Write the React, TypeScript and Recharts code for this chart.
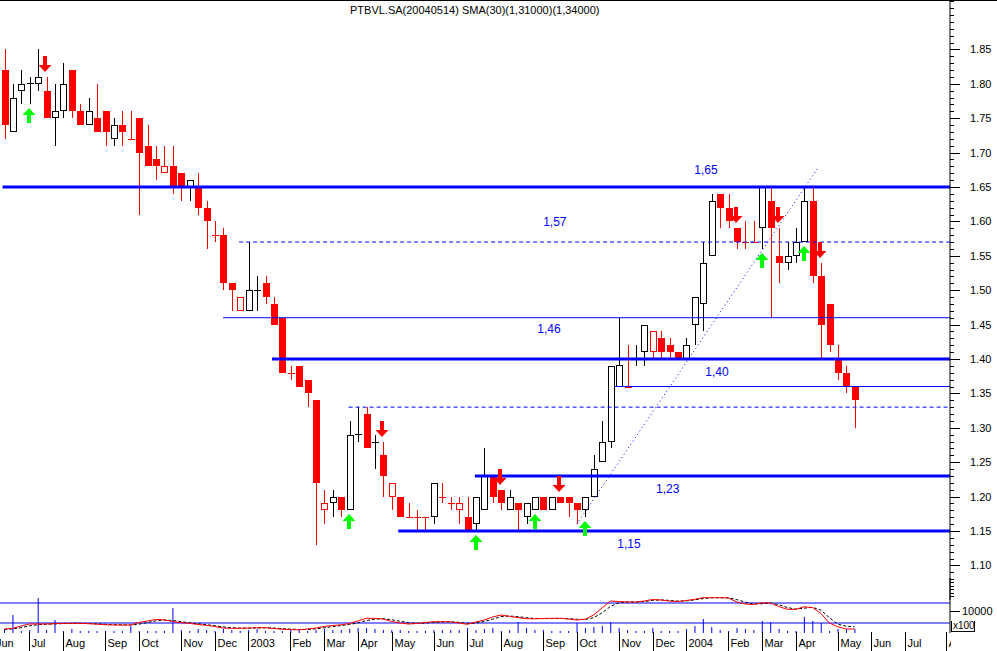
import React from "react";
import {
  ComposedChart,
  Bar,
  Line,
  XAxis,
  YAxis,
  ReferenceLine,
  ReferenceDot,
} from "recharts";

// PTBVL.SA weekly, Jun 2002 .. May 2004 (week 0 = first bar)
const opens = [
  1.82, 1.73, 1.79, 1.801, 1.8, 1.79, 1.75, 1.76, 1.82, 1.76,
  1.74, 1.75, 1.76, 1.72, 1.74, 1.72, 1.75, 1.71, 1.69, 1.67,
  1.68, 1.67, 1.65, 1.65, 1.62, 1.58, 1.58, 1.51, 1.47, 1.47,
  1.501, 1.51, 1.48, 1.46, 1.38, 1.39, 1.37, 1.34, 1.18, 1.19,
  1.2, 1.18, 1.291, 1.32, 1.28, 1.26, 1.2, 1.2, 1.17, 1.17,
  1.17, 1.17, 1.2, 1.19, 1.18, 1.17, 1.16, 1.18, 1.23, 1.21,
  1.18, 1.19, 1.17, 1.18, 1.2, 1.18, 1.2, 1.2, 1.19, 1.18,
  1.2, 1.25, 1.28, 1.36, 1.36, 1.4, 1.41, 1.41, 1.43, 1.42,
  1.41, 1.4, 1.45, 1.48, 1.55, 1.64, 1.62, 1.59, 1.57, 1.57,
  1.59, 1.63, 1.55, 1.54, 1.55, 1.57, 1.63, 1.52, 1.48, 1.4,
  1.38, 1.36,
];
const highs = [
  1.85, 1.8, 1.82, 1.81, 1.85, 1.81, 1.8, 1.83, 1.82, 1.77,
  1.78, 1.8, 1.76, 1.75, 1.76, 1.76, 1.75, 1.74, 1.71, 1.71,
  1.71, 1.67, 1.66, 1.67, 1.63, 1.6, 1.59, 1.51, 1.49, 1.57,
  1.52, 1.52, 1.49, 1.46, 1.39, 1.39, 1.37, 1.34, 1.21, 1.21,
  1.2, 1.31, 1.33, 1.33, 1.29, 1.28, 1.22, 1.2, 1.19, 1.18,
  1.17, 1.22, 1.22, 1.2, 1.2, 1.2, 1.2, 1.27, 1.23, 1.21,
  1.21, 1.19, 1.19, 1.2, 1.2, 1.2, 1.2, 1.2, 1.19, 1.2,
  1.26, 1.31, 1.39, 1.46, 1.42, 1.42, 1.45, 1.44, 1.44, 1.43,
  1.41, 1.43, 1.49, 1.57, 1.64, 1.64, 1.64, 1.59, 1.6, 1.6,
  1.65, 1.65, 1.59, 1.57, 1.59, 1.65, 1.65, 1.54, 1.48, 1.42,
  1.39, 1.36,
];
const lows = [
  1.72, 1.73, 1.77, 1.77, 1.79, 1.75, 1.71, 1.75, 1.75, 1.74,
  1.74, 1.73, 1.71, 1.71, 1.71, 1.72, 1.61, 1.68, 1.66, 1.67,
  1.64, 1.63, 1.63, 1.61, 1.56, 1.57, 1.5, 1.47, 1.47, 1.47,
  1.47, 1.48, 1.45, 1.38, 1.37, 1.36, 1.33, 1.13, 1.16, 1.17,
  1.17, 1.18, 1.28, 1.27, 1.24, 1.2, 1.18, 1.17, 1.17, 1.15,
  1.15, 1.16, 1.19, 1.18, 1.16, 1.15, 1.15, 1.18, 1.19, 1.18,
  1.18, 1.15, 1.16, 1.18, 1.18, 1.18, 1.19, 1.17, 1.16, 1.17,
  1.2, 1.25, 1.27, 1.36, 1.36, 1.39, 1.39, 1.4, 1.4, 1.4,
  1.4, 1.4, 1.42, 1.44, 1.55, 1.59, 1.59, 1.56, 1.56, 1.57,
  1.56, 1.46, 1.51, 1.53, 1.54, 1.57, 1.51, 1.4, 1.41, 1.37,
  1.35, 1.3,
];
const closes = [
  1.74, 1.78, 1.8, 1.801, 1.81, 1.75, 1.76, 1.8, 1.76, 1.74,
  1.76, 1.73, 1.73, 1.74, 1.73, 1.72, 1.7, 1.68, 1.68, 1.68,
  1.65, 1.65, 1.66, 1.62, 1.6, 1.58, 1.51, 1.5, 1.49, 1.5,
  1.501, 1.49, 1.45, 1.38, 1.38, 1.36, 1.35, 1.22, 1.19, 1.2,
  1.18, 1.29, 1.291, 1.27, 1.28, 1.23, 1.22, 1.17, 1.17, 1.17,
  1.17, 1.22, 1.2, 1.19, 1.19, 1.15, 1.2, 1.23, 1.2, 1.19,
  1.2, 1.18, 1.19, 1.2, 1.18, 1.2, 1.19, 1.19, 1.18, 1.2,
  1.24, 1.28, 1.39, 1.391, 1.36, 1.4, 1.45, 1.44, 1.41, 1.41,
  1.4, 1.42, 1.49, 1.54, 1.63, 1.62, 1.6, 1.57, 1.57, 1.57,
  1.65, 1.59, 1.54, 1.55, 1.57, 1.63, 1.52, 1.45, 1.42, 1.38,
  1.36, 1.34,
];

// volume (thousands), lower panel
const volumes = [
  300, 1800, 200, 300, 3500, 300, 1300, 200, 400, 200,
  200, 200, 200, 200, 200, 700, 200, 200, 200, 200,
  2500, 300, 200, 400, 300, 200, 400, 300, 200, 300,
  400, 200, 200, 200, 300, 300, 200, 300, 400, 300,
  300, 400, 500, 500, 400, 300, 300, 300, 200, 200,
  200, 300, 300, 300, 300, 500, 300, 400, 500, 200,
  300, 1100, 500, 300, 300, 200, 200, 200, 1000, 500,
  600, 700, 1100, 500, 300, 200, 200, 500, 200, 200,
  200, 400, 700, 1400, 600, 300, 200, 500, 400, 300,
  1200, 1100, 400, 200, 200, 1600, 1200, 1000, 200, 400,
  400, 400,
];
// indicator (x100) and its signal line
const indicator = [
  8170, 8240, 8470, 8670, 8670, 8670, 8700, 8740, 8740, 8740,
  8700, 8650, 8600, 8570, 8570, 8570, 8820, 8970, 9120, 9090,
  8920, 8800, 8740, 8620, 8540, 8420, 8270, 8240, 8240, 8270,
  8300, 8300, 8220, 8150, 8110, 8090, 8170, 8270, 8420, 8520,
  8590, 8720, 8970, 9240, 9240, 9170, 8920, 8770, 8670, 8720,
  8820, 8900, 8900, 8890, 8770, 8640, 8870, 9070, 9370, 9570,
  9440, 9310, 9200, 9190, 9220, 9240, 9240, 9170, 9070, 9150,
  9570, 10270, 10970, 10920, 10870, 10870, 10970, 11120, 11070, 10970,
  10920, 11020, 11140, 11300, 11300, 11300, 11270, 10870, 10670, 10620,
  10790, 10770, 10420, 10140, 10140, 10390, 10320, 9720, 8770, 8400,
  8170, 8170,
];
const signal = [
  8120, 8180, 8300, 8480, 8600, 8650, 8680, 8710, 8730, 8740,
  8720, 8690, 8640, 8600, 8580, 8570, 8650, 8820, 8980, 9060,
  9020, 8900, 8800, 8700, 8600, 8500, 8380, 8300, 8260, 8250,
  8270, 8290, 8270, 8210, 8160, 8120, 8120, 8180, 8290, 8410,
  8510, 8620, 8780, 9010, 9150, 9200, 9100, 8950, 8800, 8740,
  8760, 8830, 8880, 8890, 8840, 8730, 8760, 8920, 9150, 9400,
  9470, 9400, 9300, 9230, 9210, 9220, 9230, 9210, 9140, 9120,
  9300, 9780, 10420, 10800, 10880, 10870, 10910, 11030, 11080, 11030,
  10960, 10980, 11080, 11210, 11290, 11300, 11290, 11120, 10850, 10680,
  10700, 10760, 10600, 10320, 10160, 10250, 10340, 10050, 9300, 8650,
  8450, 8380,
];

const buyWeeks = [3, 41, 56, 63, 69, 90, 95];
const sellWeeks = [5, 45, 59, 66, 87, 92, 97];

const monthWeeks = [
  -0.5, 3, 7, 12, 16, 21, 25, 29, 34, 38, 42, 46, 51, 55, 59, 64, 68, 73, 77,
  81, 86, 90, 94, 99, 103, 107, 111.8,
];
const monthNames = [
  "Jun", "Jul", "Aug", "Sep", "Oct", "Nov", "Dec", "2003", "Feb", "Mar",
  "Apr", "May", "Jun", "Jul", "Aug", "Sep", "Oct", "Nov", "Dec", "2004",
  "Feb", "Mar", "Apr", "May", "Jun", "Jul", "Aug",
];

const priceLabels = [
  1.1, 1.15, 1.2, 1.25, 1.3, 1.35, 1.4, 1.45, 1.5, 1.55, 1.6, 1.65, 1.7,
  1.75, 1.8, 1.85,
];

const title = "PTBVL.SA(20040514) SMA(30)(1,31000)(1,34000)";

// hand-drawn support / resistance
const levelLines = [
  { price: 1.65, from: -0.2, heavy: true, dashed: false },
  { price: 1.57, from: 27.9, heavy: false, dashed: true },
  { price: 1.46, from: 26.0, heavy: false, dashed: false },
  { price: 1.4, from: 31.8, heavy: true, dashed: false },
  { price: 1.36, from: 72.5, heavy: false, dashed: false },
  { price: 1.33, from: 40.9, heavy: false, dashed: true },
  { price: 1.23, from: 55.9, heavy: true, dashed: false },
  { price: 1.15, from: 46.8, heavy: true, dashed: false },
];
const levelTexts = [
  { text: "1,65", week: 83.35, price: 1.6747 },
  { text: "1,57", week: 65.4, price: 1.5991 },
  { text: "1,46", week: 64.7, price: 1.4436 },
  { text: "1,40", week: 84.65, price: 1.3811 },
  { text: "1,23", week: 78.8, price: 1.211 },
  { text: "1,15", week: 74.2, price: 1.1311 },
];
const trendStart = { week: 68, price: 1.16 };
const trendEnd = { week: 96.6, price: 1.677 };

const X_MIN = -0.5;
const X_MAX = 112.33;
const AXIS_X = 950;
const FONT = "'Liberation Sans', Arial, sans-serif";
const BLUE = "#0000FF";
const RED = "#FF0000";

const candles = opens.map((o, i) => ({
  week: i,
  open: o,
  high: highs[i],
  low: lows[i],
  close: closes[i],
  prev: i > 0 ? closes[i - 1] : undefined,
  range: [lows[i], highs[i]],
}));

const lower = volumes.map((v, i) => ({
  week: i,
  vol: v,
  ind: indicator[i],
  sig: signal[i],
}));

const priceTicks: number[] = [];
for (let c = 106; c <= 192; c++) priceTicks.push(c / 100);

const Candle = (props: any) => {
  const { x, y, width, height, payload } = props;
  const { open, close, high, low, prev } = payload;
  const k = height / (high - low || 1);
  const cx = Math.round(x + width / 2) + 0.5;
  const yO = Math.round(y + (high - open) * k);
  const yC = Math.round(y + (high - close) * k);
  const up = prev === undefined ? close > open : close > prev;
  const color = up ? "#000000" : RED;
  const top = Math.min(yO, yC);
  const bot = Math.max(yO, yC);
  let body;
  if (Math.abs(close - open) < 0.002) {
    body = (
      <line x1={cx - 3.5} x2={cx + 3.5} y1={yC + 0.5} y2={yC + 0.5} stroke={color} />
    );
  } else if (close < open) {
    body = <rect x={cx - 3.5} y={top} width={7} height={bot - top} fill={color} />;
  } else {
    body = (
      <rect
        x={cx - 3}
        y={top + 0.5}
        width={6}
        height={bot - top - 1}
        fill="#ffffff"
        stroke={color}
      />
    );
  }
  return (
    <g>
      <line
        x1={cx}
        x2={cx}
        y1={Math.round(y)}
        y2={Math.round(y + height)}
        stroke={color}
      />
      {body}
    </g>
  );
};

const UpArrow = ({ cx, cy }: any) => {
  const x = Math.round(cx);
  const t = Math.round(cy) + 4;
  return (
    <polygon
      points={`${x},${t} ${x + 6.5},${t + 7} ${x + 2},${t + 7} ${x + 2},${t + 15} ${x - 2},${t + 15} ${x - 2},${t + 7} ${x - 6.5},${t + 7}`}
      fill="#00FF00"
    />
  );
};

const DownArrow = ({ cx, cy }: any) => {
  const x = Math.round(cx) - 1;
  const t = Math.round(cy) - 5;
  return (
    <polygon
      points={`${x},${t} ${x + 6.5},${t - 7} ${x + 2},${t - 7} ${x + 2},${t - 16} ${x - 2},${t - 16} ${x - 2},${t - 7} ${x - 6.5},${t - 7}`}
      fill={RED}
    />
  );
};

const PriceTick = ({ y, payload }: any) => {
  const v = payload.value;
  const labelled = priceLabels.some((p) => Math.abs(p - v) < 0.001);
  const yy = Math.round(y) + 0.5;
  return (
    <g>
      <line
        x1={AXIS_X}
        x2={AXIS_X + (labelled ? 10 : 4)}
        y1={yy}
        y2={yy}
        stroke="#000"
      />
      {labelled && (
        <text x={970} y={y + 4} fontSize={11} fontFamily={FONT} fill="#000">
          {v.toFixed(2)}
        </text>
      )}
    </g>
  );
};

const IndTick = ({ y, payload }: any) => {
  const v = payload.value;
  const yy = Math.round(y) + 0.5;
  return (
    <g>
      <line
        x1={AXIS_X}
        x2={AXIS_X + (v === 10000 ? 10 : 4)}
        y1={yy}
        y2={yy}
        stroke="#000"
      />
      {v === 10000 && (
        <text x={962} y={y + 4} fontSize={11} fontFamily={FONT} fill="#000">
          10000
        </text>
      )}
    </g>
  );
};

const MonthTick = ({ x, payload }: any) => {
  const idx = monthWeeks.indexOf(payload.value);
  const name = monthNames[idx];
  if (payload.value === X_MIN) {
    return (
      <text x={x - 4} y={647} fontSize={11} fontFamily={FONT} fill="#000">
        {name}
      </text>
    );
  }
  const lx = Math.round(x) + 0.5;
  return (
    <g>
      <clipPath id={"mclip" + idx}>
        <rect x={0} y={600} width={AXIS_X + 1} height={51} />
      </clipPath>
      <line x1={lx} x2={lx} y1={632} y2={651} stroke="#000" />
      <text
        x={lx + 2}
        y={647}
        fontSize={11}
        fontFamily={FONT}
        fill="#000"
        clipPath={`url(#mclip${idx})`}
      >
        {name}
      </text>
    </g>
  );
};

export default function App() {
  return (
    <div
      style={{
        position: "absolute",
        left: 0,
        top: 0,
        width: 997,
        height: 651,
        background: "#fff",
        overflow: "hidden",
        fontFamily: FONT,
      }}
    >
      <div
        style={{
          position: "absolute",
          left: 0,
          top: 0,
          width: 997,
          height: 1,
          background: "#000",
        }}
      />
      <div style={{ position: "absolute", left: 0, top: 0 }}>
        <ComposedChart
          width={997}
          height={600}
          data={candles}
          margin={{ top: 0, right: 0, left: 0, bottom: 0 }}
        >
          <XAxis
            dataKey="week"
            type="number"
            domain={[X_MIN, X_MAX]}
            allowDataOverflow
            hide
          />
          <YAxis
            orientation="right"
            width={47}
            domain={[1.0497, 1.9218]}
            allowDataOverflow
            ticks={priceTicks}
            interval={0}
            tickLine={false}
            axisLine={{ stroke: "#000" }}
            tick={<PriceTick />}
          />
          {levelLines.map((l) => (
            <ReferenceLine
              key={l.price}
              segment={[
                { x: l.from, y: l.price },
                { x: X_MAX, y: l.price },
              ]}
              stroke={BLUE}
              strokeWidth={l.heavy ? 3 : 1}
              strokeDasharray={l.dashed ? "4 3" : undefined}
            />
          ))}
          <ReferenceLine
            segment={[
              { x: trendStart.week, y: trendStart.price },
              { x: trendEnd.week, y: trendEnd.price },
            ]}
            stroke={BLUE}
            strokeDasharray="1 3"
          />
          <Bar
            dataKey="range"
            barSize={7}
            shape={<Candle />}
            isAnimationActive={false}
          />
          {buyWeeks.map((w) => (
            <ReferenceDot
              key={"b" + w}
              x={w}
              y={lows[w]}
              r={0}
              shape={(p: any) => <UpArrow cx={p.cx} cy={p.cy} />}
            />
          ))}
          {sellWeeks.map((w) => (
            <ReferenceDot
              key={"s" + w}
              x={w}
              y={highs[w]}
              r={0}
              shape={(p: any) => <DownArrow cx={p.cx} cy={p.cy} />}
            />
          ))}
          {levelTexts.map((t) => (
            <ReferenceDot
              key={t.text}
              x={t.week}
              y={t.price}
              r={0}
              shape={(p: any) => (
                <text
                  x={p.cx}
                  y={p.cy + 4}
                  textAnchor="middle"
                  fontSize={12}
                  fontFamily={FONT}
                  fill={BLUE}
                >
                  {t.text}
                </text>
              )}
            />
          ))}
        </ComposedChart>
      </div>
      <div style={{ position: "absolute", left: 0, top: 0 }}>
        <ComposedChart
          width={997}
          height={651}
          data={lower}
          margin={{ top: 578, right: 0, left: 0, bottom: 0 }}
        >
          <XAxis
            dataKey="week"
            type="number"
            domain={[X_MIN, X_MAX]}
            allowDataOverflow
            ticks={monthWeeks}
            interval={0}
            height={18}
            axisLine={false}
            tickLine={false}
            tick={<MonthTick />}
          />
          <YAxis yAxisId="vol" hide domain={[0, 5500]} />
          <YAxis
            yAxisId="ind"
            orientation="right"
            width={47}
            domain={[7770, 13270]}
            allowDataOverflow
            ticks={[10000, 11500, 12200, 12900]}
            interval={0}
            tickLine={false}
            axisLine={{ stroke: "#000" }}
            tick={<IndTick />}
          />
          <ReferenceLine yAxisId="ind" y={10770} stroke={BLUE} />
          <ReferenceLine yAxisId="ind" y={8770} stroke={BLUE} />
          <Bar
            yAxisId="vol"
            dataKey="vol"
            barSize={1}
            fill={BLUE}
            isAnimationActive={false}
          />
          <Line
            yAxisId="ind"
            dataKey="sig"
            stroke="#000"
            strokeDasharray="3 2"
            dot={false}
            isAnimationActive={false}
          />
          <Line
            yAxisId="ind"
            dataKey="ind"
            stroke={RED}
            dot={false}
            isAnimationActive={false}
          />
        </ComposedChart>
      </div>
      <div
        style={{
          position: "absolute",
          left: 951,
          top: 621,
          width: 21,
          height: 10,
          borderLeft: "1px solid #000",
          borderRight: "1px solid #000",
          borderBottom: "1px solid #000",
          fontSize: 10,
          lineHeight: "10px",
          paddingLeft: 1,
        }}
      >
        x100
      </div>
      <div
        style={{
          position: "absolute",
          left: 350,
          top: 4,
          fontSize: 11,
          whiteSpace: "nowrap",
        }}
      >
        {title}
      </div>
    </div>
  );
}
